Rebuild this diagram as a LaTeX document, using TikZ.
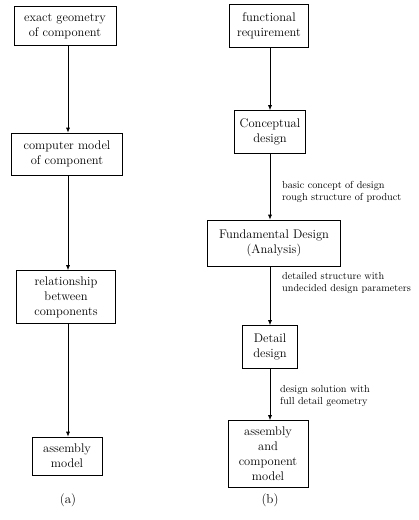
\documentclass[tikz,border=0pt]{standalone}
\usetikzlibrary{arrows.meta}

\tikzset{
  box/.style={draw, line width=0.7pt, align=center, inner sep=2pt,
    font=\fontsize{12.5}{15}\selectfont},
  note/.style={anchor=west, align=left, inner sep=0pt,
    font=\fontsize{10.2}{12}\selectfont},
  arr/.style={line width=0.7pt, -{Latex[length=5pt,width=4pt]}}
}

\begin{document}
\begin{tikzpicture}[x=1pt, y=-1pt]
          \useasboundingbox (0,0) rectangle (419,520);
          % (a)
          \node[box, minimum width=102pt, minimum height=39pt] (geo) at (65,26) {exact geometry\\of component};
          \node[box, minimum width=111pt, minimum height=42pt] (cm) at (67,154) {computer model\\of component};
          \node[box, minimum width=99pt, minimum height=53pt] (rel) at (66,297) {relationship\\between\\components};
          \node[box, minimum width=70pt, minimum height=38pt] (asm) at (67,456) {assembly\\model};
          \node[font=\fontsize{13}{15}\selectfont] (capa) at (68,500) {(a)};
          \foreach \a/\b in {geo/cm, cm/rel, rel/asm}{
              \draw[arr] (\a.south -| 68,0) -- (\b.north -| 68,0);
          }
          % (b)
          \node[box, minimum width=79pt, minimum height=43pt] (func) at (269,26) {functional\\requirement};
          \node[box, minimum width=71pt, minimum height=43pt] (concept) at (270,132) {Conceptual\\design};
          \node[box, minimum width=133pt, minimum height=46pt] (fund) at (274,243) {Fundamental Design\\(Analysis)};
          \node[box, minimum width=55pt, minimum height=43pt] (detail) at (270,347) {Detail\\design};
          \node[box, minimum width=80pt, minimum height=67pt] (asmcomp) at (268,454) {assembly\\and\\component\\model};
          \node[font=\fontsize{13}{15}\selectfont] (capb) at (270,500) {(b)};
          \foreach \a/\b in {func/concept, concept/fund, fund/detail, detail/asmcomp}{
              \draw[arr] (\a.south -| 270,0) -- (\b.north -| 270,0);
          }
          \node[note] (n1) at (282,192) {basic concept of design\\rough structure of product};
          \node[note] (n2) at (282,283) {detailed structure with\\undecided design parameters};
          \node[note] (n3) at (280,396) {design solution with\\full detail geometry};
\end{tikzpicture}
\end{document}
